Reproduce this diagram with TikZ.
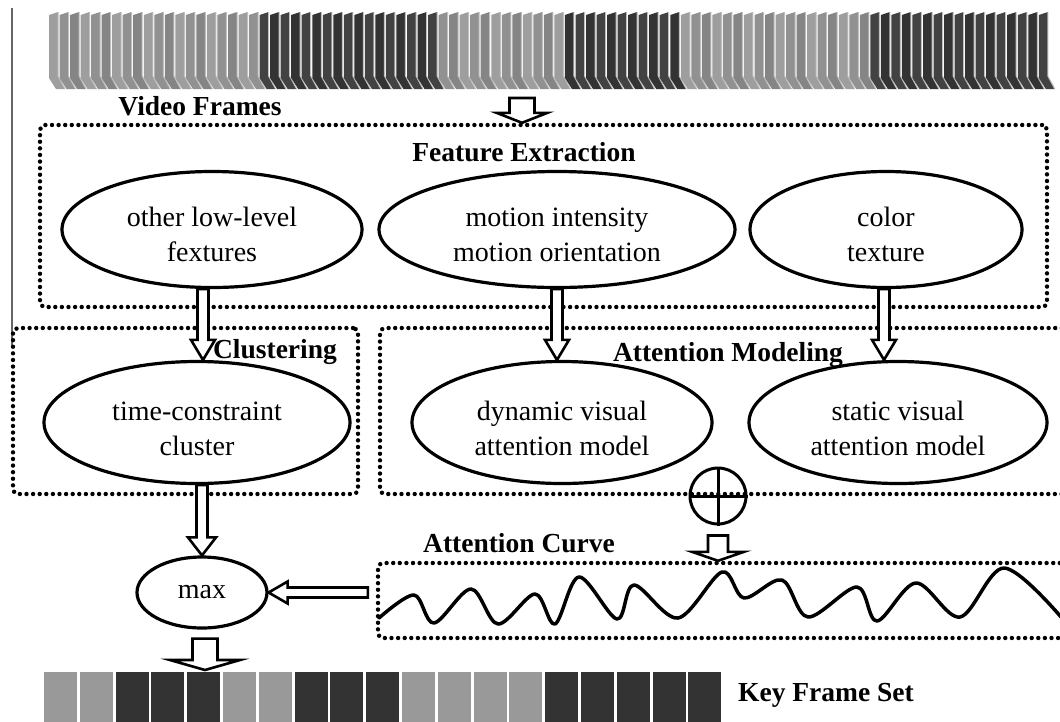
\documentclass[tikz,border=0pt]{standalone}
\usepackage{fontspec}
\setmainfont{Liberation Serif}
\usetikzlibrary{shapes.geometric,calc}
\newcommand\txtfont{\fontsize{28}{35}\selectfont}
\newcommand\lblfont{\fontsize{27.5}{33}\selectfont\bfseries}
\tikzset{
  dbox/.style={draw, line width=4.4pt, dash pattern=on 0pt off 6.6pt, line cap=round, rounded corners=5pt, inner sep=0pt},
  ell/.style={ellipse, draw, line width=3.2pt, inner sep=0pt},
  txt/.style={font=\txtfont, align=center, inner sep=0pt},
  lbl/.style={font=\lblfont, inner sep=0pt},
  blk/.style={draw, line width=2.6pt, fill=white, line join=miter},
  wave/.style={line width=3.5pt, line join=round, line cap=round},
}
% hollow block arrow pointing down: #1 start, #2 tip, #3 shaft half width, #4 head half width, #5 head length
\newcommand\blkdown[5]{%
  \draw[blk] let \p1=(#1), \p2=(#2) in
    (\x1-#3pt,\y1) -- (\x1-#3pt,\y2+#5pt) -- (\x1-#4pt,\y2+#5pt) -- (\x1,\y2)
    -- (\x1+#4pt,\y2+#5pt) -- (\x1+#3pt,\y2+#5pt) -- (\x1+#3pt,\y1) -- cycle;}
% hollow block arrow pointing left
\newcommand\blkleft[5]{%
  \draw[blk] let \p1=(#1), \p2=(#2) in
    (\x1,\y1+#3pt) -- (\x2+#5pt,\y1+#3pt) -- (\x2+#5pt,\y1+#4pt) -- (\x2,\y1)
    -- (\x2+#5pt,\y1-#4pt) -- (\x2+#5pt,\y1-#3pt) -- (\x1,\y1-#3pt) -- cycle;}
\begin{document}
\begin{tikzpicture}[x=1pt,y=-1pt]
\useasboundingbox (0,0) rectangle (1060,721);
% scan artefact line at the left
\draw[black!60, line width=1.5pt] (12,8) -- (12,345);

% ---------- video frames strip ----------
\node[inner sep=0pt, minimum width=1000pt, minimum height=78pt] (vf) at (549,51) {};
\foreach \i in {0,...,94}{
  \pgfmathsetmacro\xx{49+\i*10.53}
  \pgfmathtruncatemacro\sh{(\xx<253 || (\xx>=431 && \xx<555) || (\xx>=674 && \xx<863)) ? 38+mod(\i,3)*5 : 74+mod(\i,2)*6}
  \fill[black!\sh] (\xx,15) -- (\xx+9,12) -- (\xx+9,76) -- (\xx+16,89) -- (\xx+7,89) -- (\xx,78) -- cycle;
  \draw[white!75!black, line width=1pt] (\xx+9,12) -- (\xx+9,76) -- (\xx+16,89);
}
\node[lbl] (vft) at (200,106) {Video Frames};

% ---------- boxes ----------
\node[dbox, minimum width=1007pt, minimum height=182pt] (fe) at (543.5,216) {};
\node[dbox, minimum width=345pt, minimum height=166pt] (cl) at (185.5,411) {};
\node[dbox, minimum width=700pt, minimum height=166pt] (am) at (730,411) {};
\node[dbox, minimum width=700pt, minimum height=75pt] (cb) at (728,600.5) {};

\node[lbl] (fet) at (524,152) {Feature Extraction};
\node[lbl] (clt) at (275,352) {Clustering};
\node[lbl] (amt) at (728,355) {Attention Modeling};
\node[lbl] (act) at (519,543) {Attention Curve};

% ---------- ellipses ----------
\node[ell, minimum width=300pt, minimum height=116pt] (A) at (212,229.5) {};
\node[ell, minimum width=356pt, minimum height=116pt] (B) at (557,229.5) {};
\node[ell, minimum width=272pt, minimum height=116pt] (C) at (886,229.5) {};
\node[ell, minimum width=306pt, minimum height=122pt] (D) at (197,422.5) {};
\node[ell, minimum width=300pt, minimum height=122pt] (E) at (562,422.5) {};
\node[ell, minimum width=298pt, minimum height=122pt] (F) at (898,422.5) {};
\node[ell, minimum width=130pt, minimum height=71pt] (mx) at (202,592.5) {};

\node[txt] (At) at ([yshift=-5pt]A.center) {other low-level\\fextures};
\node[txt] (Bt) at ([yshift=-5pt]B.center) {motion intensity\\motion orientation};
\node[txt] (Ct) at ([yshift=-5pt]C.center) {color\\texture};
\node[txt] (Dt) at ([yshift=-6pt]D.center) {time-constraint\\cluster};
\node[txt] (Et) at ([yshift=-6pt]E.center) {dynamic visual\\attention model};
\node[txt] (Ft) at ([yshift=-6pt]F.center) {static visual\\attention model};
\node[txt] (mxt) at (mx.center) {max};

% oplus
\node[circle, draw, line width=3pt, minimum size=56pt, inner sep=0pt] (op) at (718,496) {};
\draw[line width=3pt] (op.north) -- (op.south) (op.west) -- (op.east);

% ---------- attention curve ----------
\draw[wave] plot[smooth, tension=0.55] coordinates {
  (379,618) (414,595) (434,623) (471,589) (498,624) (535,594) (555,624)
  (579,577) (617,619) (634,585) (678,618) (722,572) (744,598) (782,580)
  (808,617) (857,587) (877,621) (916,583) (960,617) (1004,568) (1061,617)};

% ---------- key frames ----------
\node[inner sep=0pt, minimum width=680pt, minimum height=58pt, anchor=north west] (kf) at (44,672) {};
\foreach \g [count=\i from 0] in {40,40,80,80,80,40,40,80,80,80,40,40,40,40,80,80,80,80,80}
  \fill[black!\g] (44+\i*35.8,672) rectangle ++(33,60);
\node[lbl, anchor=west] (kft) at (738,695) {Key Frame Set};

% ---------- arrows ----------
\coordinate (vfo) at (522,98);
\blkdown{vfo}{vfo |- fe.north}{12.5}{25.5}{10}
\coordinate (a1) at ([xshift=-9pt]A.south);
\blkdown{a1}{a1 |- D.north}{5.5}{12}{20}
\blkdown{B.south}{B.south |- E.north}{5.5}{12}{20}
\coordinate (c1) at ([xshift=-2pt]C.south);
\blkdown{c1}{c1 |- F.north}{5.5}{12}{20}
\blkdown{mx.north |- D.south}{mx.north}{5.5}{14}{18}
\coordinate (o1) at ([yshift=-10pt]op.south);
\blkdown{o1}{o1 |- cb.north}{10}{26}{9}
\coordinate (c2) at ([xshift=-8pt]cb.west);
\blkleft{c2 |- mx.east}{mx.east}{5}{11}{19}
\coordinate (m1) at ([xshift=3pt,yshift=-9pt]mx.south);
\coordinate (m2) at ([yshift=2pt]kf.north);
\blkdown{m1}{m1 |- m2}{12.5}{35}{10}
\end{tikzpicture}
\end{document}
